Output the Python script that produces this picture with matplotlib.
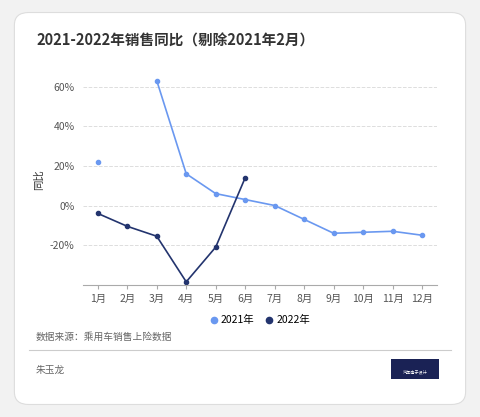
import matplotlib.pyplot as plt
import numpy as np
from matplotlib.patches import FancyBboxPatch

plt.rcParams['font.family'] = ['Noto Sans CJK SC', 'DejaVu Sans']

months = ["1月", "2月", "3月", "4月", "5月", "6月", "7月", "8月", "9月", "10月", "11月", "12月"]
y2021 = [22, np.nan, 63, 16, 6, 3, 0, -7, -14, -13.5, -13, -15]
y2022 = [-4, -10.5, -15.5, -38.5, -21, 14]
c21 = "#6a98f0"
c22 = "#23346e"

fig = plt.figure(figsize=(4.8, 4.17), dpi=100)
fig.patch.set_facecolor("#f2f2f2")
card = FancyBboxPatch((0.03, 0.03), 0.94, 0.94, boxstyle="round,pad=0,rounding_size=0.03",
                      transform=fig.transFigure, facecolor="white", edgecolor="#dddddd", lw=0.8,
                      zorder=-10)
fig.patches.append(card)

ax = fig.add_axes([0.173, 0.317, 0.737, 0.504])
ax.set_facecolor("none")
x = np.arange(1, 13)
ax.plot(x, y2021, color=c21, lw=1.2, marker="o", ms=3, label="2021年")
ax.plot(x[:len(y2022)], y2022, color=c22, lw=1.2, marker="o", ms=3, label="2022年")

ax.set_xlim(0.5, 12.5)
ax.set_ylim(-40, 66)
ax.set_xticks(x)
ax.set_xticklabels(months, fontsize=7.5, color="#555555")
ax.set_yticks([-20, 0, 20, 40, 60])
ax.set_yticklabels(["-20%", "0%", "20%", "40%", "60%"], fontsize=7.5, color="#555555")
ax.grid(axis="y", ls="--", color="#dddddd", lw=0.7)
for s in ["top", "right", "left"]:
    ax.spines[s].set_visible(False)
ax.spines["bottom"].set_color("#aaaaaa")
ax.tick_params(axis="y", length=0, pad=6)
ax.tick_params(axis="x", length=3, color="#aaaaaa")
ax.set_ylabel("同比", fontsize=7.5, color="#333333")
ax.legend(loc="upper center", bbox_to_anchor=(0.5, -0.1), ncol=2, frameon=False,
          fontsize=7.5, handlelength=0.8, markerscale=1.5, columnspacing=1.0, handletextpad=0.3)
for l in ax.get_legend().get_lines():
    l.set_linestyle("")

fig.text(0.075, 0.89, "2021-2022年销售同比（剔除2021年2月）", fontsize=10.5, fontweight="bold", color="#333333")
fig.text(0.075, 0.185, "数据来源：乘用车销售上险数据", fontsize=7, color="#666666")
fig.add_artist(plt.Line2D([0.06, 0.94], [0.16, 0.16], color="#cccccc", lw=0.8))
fig.text(0.075, 0.105, "朱玉龙", fontsize=7, color="#666666")
fig.patches.append(FancyBboxPatch((0.815, 0.09), 0.1, 0.05, boxstyle="square,pad=0",
                                  transform=fig.transFigure, facecolor="#1a2255", edgecolor="none"))
fig.text(0.865, 0.105, "汽车电子设计", fontsize=3, color="white", ha="center")

fig.savefig("out.png", dpi=100, facecolor=fig.get_facecolor())
